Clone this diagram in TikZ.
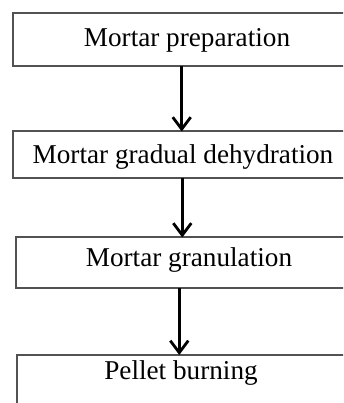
\documentclass[tikz,border=0pt]{standalone}
\usepackage{fontspec}
\setmainfont{Liberation Serif}
\usetikzlibrary{arrows.meta}
\tikzset{
  box/.style={draw=black!68, line width=2pt, rectangle, inner sep=0pt, outer sep=0pt},
  lbl/.style={anchor=base, inner sep=0pt, font=\fontsize{27.2}{30}\selectfont},
  arr/.style={draw=black, line width=2.8pt, -{Straight Barb[length=12pt,width=18pt]}}
}
\begin{document}
\begin{tikzpicture}[x=1pt,y=1pt]
\useasboundingbox (0,0) rectangle (343,403);
\clip (0,0) rectangle (343,403);
\fill[white] (0,0) rectangle (343,403);
\node[box, minimum width=348.3pt, minimum height=53.2pt] (b1) at (186.85,363.1) {};
\node[box, minimum width=341pt, minimum height=46.5pt] (b2) at (183,248.25) {};
\node[box, minimum width=346.3pt, minimum height=50.5pt] (b3) at (188.85,140.25) {};
\node[box, minimum width=327.7pt, minimum height=60pt] (b4) at (181.15,18) {};
\node[lbl] (t1) at (187,356.3) {Mortar preparation};
\node[lbl] (t2) at (183,239) {Mortar gradual dehydration};
\node[lbl] (t3) at (189,136.3) {Mortar granulation};
\node[lbl] (t4) at (181,23) {Pellet burning};
\coordinate (x1) at (181.7,0);
\coordinate (x2) at (182.3,0);
\coordinate (x3) at (179.3,0);
\draw[arr] (b1.south -| x1) -- (b2.north -| x1);
\draw[arr] (b2.south -| x2) -- (b3.north -| x2);
\draw[arr] (b3.south -| x3) -- (b4.north -| x3);
\end{tikzpicture}
\end{document}
